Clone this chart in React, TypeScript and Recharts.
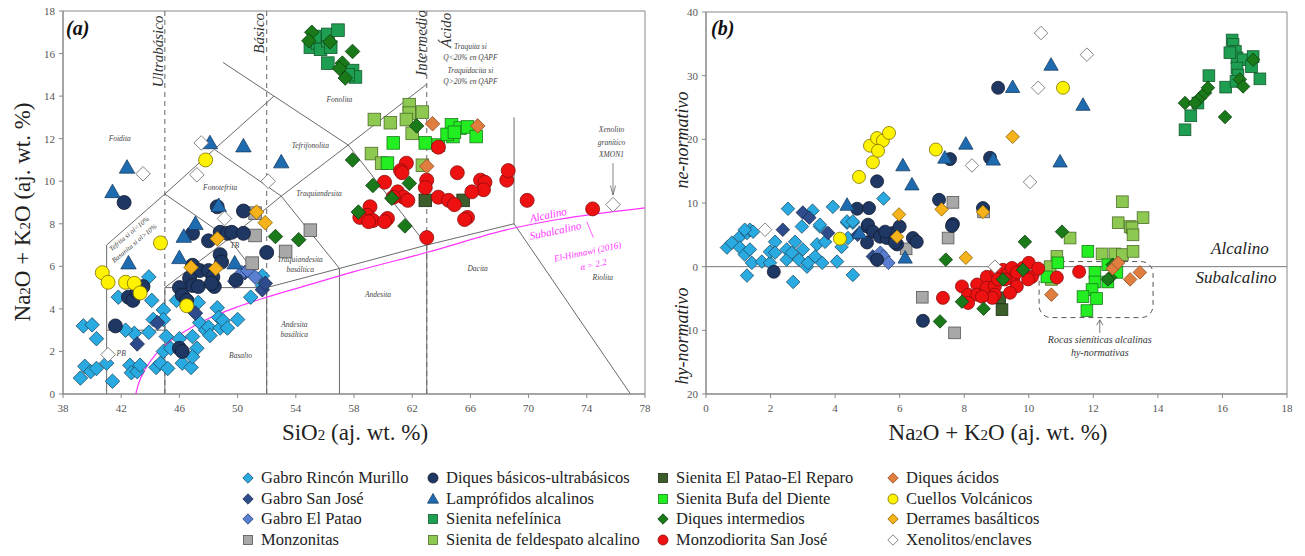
import React from 'react';
import { ScatterChart, Scatter, XAxis, YAxis, ReferenceLine, ReferenceArea } from 'recharts';

const FONT = 'Liberation Serif, Times New Roman, serif';

// ---------- Panel (a) data: [SiO2, Na2O+K2O] ----------
const aGabroRM = [[39.2,0.75],[39.4,3.2],[40.0,3.25],[40.3,2.6],[39.5,1.3],[39.9,1.05],[40.3,1.2],[41.4,0.6],[41.0,1.45],[41.8,4.55],[42.6,1.35],[42.7,1.0],[43.1,1.05],[43.3,1.35],[42.9,2.85],[43.9,2.9],[44.2,3.5],[43.9,5.5],[44.1,4.4],[44.4,1.25],[44.7,1.45],[45.2,1.2],[44.9,2.0],[44.9,3.95],[44.9,3.5],[45.1,2.7],[45.4,2.15],[45.8,4.4],[46.0,2.6],[46.2,1.45],[46.5,4.5],[46.8,1.25],[46.9,2.7],[47.2,2.15],[47.3,4.3],[46.9,1.75],[47.4,3.35],[47.8,3.0],[48.0,3.15],[48.1,2.75],[48.6,4.05],[48.7,3.6],[48.8,3.1],[49.0,3.45],[49.3,3.1],[50.0,3.5],[50.9,4.55],[51.7,5.55],[51.7,5.1],[42.3,3.0]];
const aGabroSJ = [[43.1,2.35],[44.5,3.35],[47.1,3.8],[51.7,4.9],[51.9,5.2],[50.5,5.7]];
const aGabroEP = [[50.3,5.7],[50.7,5.8],[51.2,5.5],[49.8,5.3]];
const aMonz = [[51.2,8.5],[51.2,7.45],[53.3,6.7],[55.0,7.7],[51.0,6.15]];
const aDiquesBU = [[42.2,9.0],[48.6,8.8],[50.4,8.6],[41.6,3.2],[42.5,4.55],[42.8,4.4],[43.5,5.05],[43.1,4.8],[46.9,7.55],[48.0,7.2],[48.8,7.6],[49.3,7.55],[49.6,7.6],[50.4,7.55],[48.8,6.55],[48.9,6.2],[46.9,6.05],[47.4,5.8],[48.0,5.8],[48.3,5.5],[48.4,5.05],[46.7,5.45],[46.9,5.1],[46.0,5.0],[46.2,4.65],[46.5,4.4],[47.3,5.05],[48.2,5.2],[49.9,5.35],[52.0,6.65],[46.0,2.15],[46.2,2.0]];
const aLampro = [[48.1,11.8],[50.4,11.65],[53.0,10.9],[42.4,10.65],[41.4,9.5],[47.1,8.0],[42.5,6.15],[46.3,7.4],[46.0,6.4],[49.8,6.15],[48.7,8.85]];
const aNefel = [[55.0,16.3],[55.5,16.5],[55.7,16.2],[56.2,16.6],[56.2,16.9],[56.9,17.1],[56.4,16.3],[56.2,15.55],[57.9,15.2],[58.1,14.9],[57.6,15.0],[55.3,16.8]];
const aSfa = [[59.4,12.9],[60.5,12.75],[61.8,13.6],[61.8,13.2],[62.7,13.25],[62.0,12.25],[59.2,11.3],[59.9,10.85],[62.7,10.75],[61.6,12.9]];
const aElPatao = [[62.9,9.1],[65.5,9.1]];
const aBufa = [[60.7,11.8],[62.9,11.8],[60.3,10.85],[63.8,11.7],[64.7,12.65],[65.3,12.5],[64.8,12.1],[64.4,12.2],[65.8,12.55],[66.4,12.1],[64.9,12.3]];
const aIntermed = [[55.1,17.0],[56.35,16.55],[57.9,16.1],[57.2,15.55],[57.4,14.85],[57.0,15.3],[54.9,16.6],[52.6,7.4],[54.2,7.25],[57.9,11.0],[59.3,9.8],[60.6,9.2],[61.8,9.9],[58.3,8.55],[61.5,7.9],[62.3,12.6]];
const aMonzod = [[61.6,10.85],[61.2,10.5],[61.3,10.4],[60.1,9.95],[61.0,9.5],[61.4,9.25],[61.7,9.1],[60.7,9.25],[59.1,8.8],[58.9,8.4],[58.4,8.3],[59.3,8.15],[60.3,8.25],[63.0,10.05],[62.9,9.7],[63.8,9.25],[64.5,9.1],[64.9,8.9],[65.1,10.4],[65.8,8.3],[66.7,10.05],[67.0,9.95],[66.9,9.6],[66.1,9.5],[68.5,10.05],[68.6,10.5],[69.9,9.1],[74.4,8.7],[63.8,11.6],[63.0,7.35],[65.6,8.2],[60.1,8.1],[59.0,8.1]];
const aAcidos = [[63.4,12.7],[66.5,12.6],[63.0,10.7]];
const aCuellos = [[47.8,11.0],[44.7,7.1],[40.7,5.7],[41.1,5.25],[42.3,5.25],[42.9,5.2],[43.3,4.75],[46.5,4.15]];
const aDerrames = [[51.3,8.55],[51.9,8.05],[48.6,7.3],[46.8,5.95],[48.5,5.9]];
const aXeno = [[47.5,11.8],[43.5,10.35],[47.2,10.3],[52.1,10.0],[49.1,8.25],[41.1,1.85],[75.8,8.9]];

// ---------- Panel (b) data: [Na2O+K2O, ne(+)/hy(-)] ----------
const bGabroRM = [[0.65,3.0],[0.8,3.75],[1.05,4.7],[1.27,5.3],[1.36,5.8],[1.46,5.5],[1.05,3.0],[1.2,1.9],[1.36,2.7],[1.42,0.6],[1.27,-1.4],[1.73,0.8],[1.98,0.6],[1.98,2.35],[2.14,3.9],[2.14,2.2],[2.5,2.7],[2.5,1.1],[2.66,2.2],[2.7,-2.4],[2.76,3.9],[2.88,1.1],[2.97,6.3],[3.0,2.7],[3.13,0],[3.16,0.6],[3.38,1.6],[3.44,3.5],[3.6,0.6],[3.53,6.3],[3.69,3.9],[4.06,0.8],[4.2,3.1],[4.37,6.9],[4.55,-1.3],[4.55,6.9],[4.4,4.5],[2.54,9.1],[3.3,8.8],[3.93,9.4],[4.37,7.1],[4.55,7.1],[5.5,10.7],[3.53,6.6],[1.2,5.8]];
const bGabroSJ = [[3.0,8.5],[2.38,5.8],[3.78,5.3],[4.7,5.0],[5.17,1.6],[3.2,7.7]];
const bGabroEP = [[5.4,2.2],[5.5,1.6],[5.65,0.6],[5.3,1.0]];
const bMonz = [[7.65,10.1],[7.5,4.5],[6.2,2.8],[6.7,-4.8],[7.7,-10.4],[8.6,8.6]];
const bDiquesBU = [[5.3,13.4],[4.68,9.1],[5.05,9.2],[5.0,6.3],[7.56,16.9],[7.22,10.5],[7.65,6.7],[8.58,9.2],[9.05,28.1],[8.8,17.1],[5.02,6.6],[5.17,5.5],[4.99,3.8],[5.39,4.7],[5.3,1.1],[5.6,4.5],[5.8,5.3],[5.92,3.5],[6.0,6.3],[6.41,4.5],[6.53,3.9],[2.1,-0.8],[6.72,-8.5],[7.62,6.4],[5.55,5.5],[5.85,3.8]];
const bLampro = [[6.1,15.9],[6.38,12.9],[8.05,19.3],[7.4,17.1],[4.37,9.7],[9.5,28.2],[10.69,31.7],[11.68,25.4],[10.97,16.5],[8.9,16.8],[4.75,5.3],[6.17,1.4]];
const bNefel = [[16.3,35.6],[16.33,34.9],[16.4,33.8],[16.45,32.8],[16.23,33.6],[16.64,32.5],[16.95,33.0],[16.9,31.4],[16.45,31.2],[16.48,30.1],[17.16,29.5],[16.1,28.2],[15.58,30.0],[15.24,25.7],[15.02,23.7],[14.84,21.5],[16.42,29.1]];
const bSfa = [[12.9,10.2],[12.77,6.9],[13.14,6.3],[13.54,7.7],[13.2,6.1],[13.23,5.0],[12.27,2.0],[12.67,2.0],[12.9,1.9],[13.23,2.4],[10.87,1.6],[11.28,4.5],[10.7,-2.0],[10.66,0]];
const bElPatao = [[9.1,-4.9],[9.17,-6.75]];
const bBufa = [[11.83,2.4],[12.05,-0.9],[12.05,-2.4],[11.96,-3.6],[11.68,-4.7],[12.1,-5.0],[11.8,-6.9],[12.45,0.3],[12.73,-0.9],[12.45,-2.4],[10.9,0.6],[10.56,-1.6]];
const bIntermed = [[14.84,25.7],[15.3,26.5],[15.46,27.3],[15.55,28.1],[16.08,23.5],[16.54,29.4],[16.64,28.3],[16.95,32.5],[15.15,25.7],[11.03,5.5],[9.88,3.9],[7.43,1.1],[9.2,-2.0],[9.82,-0.5],[7.93,-5.5],[8.6,-6.6],[7.25,-8.6],[12.52,-1.7],[12.6,0.3],[12.45,-2.0]];
const bMonzod = [[7.34,-4.9],[7.93,-3.1],[8.12,-4.4],[8.4,-2.8],[8.4,-4.4],[8.7,-1.6],[8.7,-3.3],[8.95,-3.1],[8.95,-4.4],[9.0,-0.9],[9.2,-0.5],[9.32,-1.3],[9.48,-0.2],[9.52,-2.0],[9.63,-3.1],[9.42,-4.1],[8.87,-4.9],[8.55,-4.7],[8.12,-5.7],[9.82,-0.2],[10.0,0.6],[10.1,-1.6],[9.98,-2.0],[10.29,-0.3],[10.87,-1.7],[11.56,-0.8],[9.63,-0.9],[9.26,-2.0],[9.05,-2.0]];
const bAcidos = [[10.7,-4.4],[12.6,-0.3],[12.77,0.6],[13.14,-2.0],[13.44,-0.9]];
const bCuellos = [[4.74,14.1],[5.17,16.4],[5.08,19.0],[5.3,20.2],[5.48,19.8],[5.33,18.2],[5.67,21.0],[7.12,18.4],[11.06,28.1],[4.15,4.4]];
const bDerrames = [[5.98,8.2],[5.92,4.7],[7.3,9.0],[8.05,1.4],[8.58,8.6],[9.5,20.4]];
const bXeno = [[10.38,36.7],[11.8,33.3],[10.29,28.1],[10.04,13.3],[8.24,15.9],[1.83,5.8],[8.95,0.0]];

// ---------- ticks ----------
const aXTicks = [38,42,46,50,54,58,62,66,70,74,78];
const aYTicks = [0,2,4,6,8,10,12,14,16,18];
const bXTicks = [0,2,4,6,8,10,12,14,16,18];
const bYTicks = [-20,-10,0,10,20,30,40];

// ---------- TAS diagram boundaries (panel a) ----------
const tasSegments = [
  [[41,0],[41,7]],[[41,3],[45,3]],[[45,0],[45,5]],[[45,5],[52,5]],[[52,0],[52,5]],
  [[57,0],[57,5.9]],[[63,0],[63,7]],[[52,5],[57,5.9]],[[57,5.9],[63,7]],[[63,7],[69,8]],
  [[69,8],[77,0]],[[69,8],[69,13]],[[41,7],[45,9.4]],[[45,9.4],[48.4,11.5]],[[48.4,11.5],[52.5,14]],
  [[45,5],[49.4,7.3]],[[49.4,7.3],[52,5]],[[49.4,7.3],[45,9.4]],[[49.4,7.3],[53,9.3]],
  [[53,9.3],[57,5.9]],[[53,9.3],[48.4,11.5]],[[53,9.3],[57.6,11.7]],[[57.6,11.7],[63,14.56]],
  [[49,15.58],[57.6,11.7]],[[57.6,11.7],[63,7]],
];
const dividerX = [45,52,63];
const alkalineCurve = [[43,0],[43.2,0.5],[43.6,1.1],[44.3,1.8],[45.2,2.4],[46.5,3.0],[48,3.55],[50,4.1],[52,4.55],[55,5.15],[58,5.75],[63,6.65],[69,7.8],[72,8.2],[78,8.75]];
const magentaPointer = [[74.0,8.1],[74.45,7.35]];
const aArrow = [[[75.8,10.85],[75.8,9.35]],[[75.62,9.8],[75.8,9.35]],[[75.98,9.8],[75.8,9.35]]];

const aFieldLabels = [
  { x: 41.9, y: 11.9, t: 'Foidita' },
  { x: 48.8, y: 9.6, t: 'Fonotefrita' },
  { x: 55.0, y: 11.55, t: 'Tefrifonolita' },
  { x: 57.0, y: 13.7, t: 'Fonolita' },
  { x: 55.6, y: 9.3, t: 'Traquiandesita' },
  { x: 54.3, y: 6.2, t: 'Traquiandesita' },
  { x: 54.3, y: 5.75, t: 'basáltica' },
  { x: 53.9, y: 3.15, t: 'Andesita' },
  { x: 53.9, y: 2.7, t: 'basáltica' },
  { x: 59.65, y: 4.55, t: 'Andesita' },
  { x: 50.2, y: 1.7, t: 'Basalto' },
  { x: 66.5, y: 5.8, t: 'Dacita' },
  { x: 75.1, y: 5.35, t: 'Riolita' },
  { x: 42.0, y: 1.8, t: 'PB' },
  { x: 49.8, y: 6.85, t: 'TB' },
  { x: 66.0, y: 16.2, t: 'Traquita si' },
  { x: 66.0, y: 15.7, t: 'Q<20% en QAPF' },
  { x: 66.0, y: 15.1, t: 'Traquidacita si' },
  { x: 66.0, y: 14.55, t: 'Q>20% en QAPF' },
  { x: 75.7, y: 12.3, t: 'Xenolito' },
  { x: 75.7, y: 11.7, t: 'granítico' },
  { x: 75.7, y: 11.15, t: 'XMON1' },
];
const aSlantLabels = [
  { x: 42.65, y: 7.45, t: 'Tefrita si ol<10%' },
  { x: 43.0, y: 7.0, t: 'Basanita si ol>10%' },
];
const aDividerLabels = [
  { x: 44.85, y: 16.1, t: 'Ultrabásico' },
  { x: 51.8, y: 16.95, t: 'Básico' },
  { x: 62.95, y: 16.5, t: 'Intermedio' },
  { x: 64.7, y: 17.1, t: 'Ácido' },
];
const aMagentaLabels = [
  { x: 71.4, y: 8.25, t: 'Alcalino', s: 11 },
  { x: 71.9, y: 7.5, t: 'Subalcalino', s: 11 },
  { x: 74.1, y: 6.55, t: 'El-Hinnawi (2016)', s: 9 },
  { x: 74.5, y: 5.95, t: 'α = 2.2', s: 9 },
];

// ---------- panel b annotations ----------
const bSerieLabels = [
  { x: 16.54, y: 2.0, t: 'Alcalino' },
  { x: 16.42, y: -2.5, t: 'Subalcalino' },
];
const bNoteLabels = [
  { x: 12.2, y: -12.0, t: 'Rocas sieníticas alcalinas' },
  { x: 12.2, y: -14.1, t: 'hy-normativas' },
];
const bBox = { x1: 10.32, x2: 13.85, y1: -8.0, y2: 0.8 };
const bArrow = [[[12.2,-10.4],[12.2,-8.35]],[[12.1,-9.2],[12.2,-8.35]],[[12.3,-9.2],[12.2,-8.35]]];

type Kind = 'circle' | 'square' | 'diamond' | 'triangle';
interface Serie { name: string; fill: string; stroke: string; kind: Kind; a: number[][]; b: number[][] }

const series: Serie[] = [
  { name: 'Gabro Rincón Murillo', fill: '#29ABE2', stroke: '#1c4a66', kind: 'diamond', a: aGabroRM, b: bGabroRM },
  { name: 'Gabro San José', fill: '#2E4B8B', stroke: '#1b2a4a', kind: 'diamond', a: aGabroSJ, b: bGabroSJ },
  { name: 'Gabro El Patao', fill: '#5B7FD0', stroke: '#2a3d70', kind: 'diamond', a: aGabroEP, b: bGabroEP },
  { name: 'Monzonitas', fill: '#A8A8A8', stroke: '#555', kind: 'square', a: aMonz, b: bMonz },
  { name: 'Diques básicos-ultrabásicos', fill: '#1F3763', stroke: '#111a30', kind: 'circle', a: aDiquesBU, b: bDiquesBU },
  { name: 'Lamprófidos alcalinos', fill: '#1F6BB0', stroke: '#173f66', kind: 'triangle', a: aLampro, b: bLampro },
  { name: 'Sienita nefelínica', fill: '#1E9E50', stroke: '#145a2e', kind: 'square', a: aNefel, b: bNefel },
  { name: 'Sienita de feldespato alcalino', fill: '#8DC850', stroke: '#4d6e2a', kind: 'square', a: aSfa, b: bSfa },
  { name: 'Sienita El Patao-El Reparo', fill: '#3B5E2B', stroke: '#1e2f16', kind: 'square', a: aElPatao, b: bElPatao },
  { name: 'Sienita Bufa del Diente', fill: '#22EE22', stroke: '#1a7a1a', kind: 'square', a: aBufa, b: bBufa },
  { name: 'Diques intermedios', fill: '#1A7A1A', stroke: '#0e3e0e', kind: 'diamond', a: aIntermed, b: bIntermed },
  { name: 'Monzodiorita San José', fill: '#EE1111', stroke: '#8a0d0d', kind: 'circle', a: aMonzod, b: bMonzod },
  { name: 'Diques ácidos', fill: '#E07E40', stroke: '#8a4a20', kind: 'diamond', a: aAcidos, b: bAcidos },
  { name: 'Cuellos Volcánicos', fill: '#FFF200', stroke: '#7a7000', kind: 'circle', a: aCuellos, b: bCuellos },
  { name: 'Derrames basálticos', fill: '#F5B21B', stroke: '#8a6200', kind: 'diamond', a: aDerrames, b: bDerrames },
  { name: 'Xenolitos/enclaves', fill: '#FFFFFF', stroke: '#666', kind: 'diamond', a: aXeno, b: bXeno },
];

const drawOrder = [0, 1, 2, 3, 4, 5, 6, 7, 9, 8, 11, 10, 12, 14, 13, 15];

const toXY = (arr: number[][]) => arr.map(([x, y]) => ({ x, y }));

function Marker({ kind, cx, cy, fill, stroke, s }: { kind: Kind; cx: number; cy: number; fill: string; stroke: string; s: number }) {
  const sw = 0.8;
  if (kind === 'circle') return <circle cx={cx} cy={cy} r={s / 2} fill={fill} stroke={stroke} strokeWidth={sw} />;
  if (kind === 'square') return <rect x={cx - s * 0.45} y={cy - s * 0.45} width={s * 0.9} height={s * 0.9} fill={fill} stroke={stroke} strokeWidth={sw} />;
  if (kind === 'diamond') {
    const h = s * 0.52;
    return <polygon points={`${cx},${cy - h} ${cx + h},${cy} ${cx},${cy + h} ${cx - h},${cy}`} fill={fill} stroke={stroke} strokeWidth={sw} />;
  }
  const h = s * 0.55;
  return <polygon points={`${cx},${cy - h} ${cx + h},${cy + h * 0.75} ${cx - h},${cy + h * 0.75}`} fill={fill} stroke={stroke} strokeWidth={sw} />;
}

const markerShape = (sr: Serie, s: number) => (p: any) => {
  if (p == null || p.cx == null || p.cy == null) return <g />;
  return <Marker kind={sr.kind} cx={p.cx} cy={p.cy} fill={sr.fill} stroke={sr.stroke} s={s} />;
};

const textShape = (style: any, rotate = 0) => (p: any) => {
  if (p == null || p.cx == null) return <g />;
  const fs = p.payload && p.payload.s ? p.payload.s : style.fontSize;
  return (
    <text
      x={p.cx}
      y={p.cy}
      textAnchor="middle"
      fontFamily={FONT}
      fontStyle="italic"
      fill={style.fill}
      fontSize={fs}
      transform={rotate ? `rotate(${rotate} ${p.cx} ${p.cy})` : undefined}
    >
      {p.payload.t}
    </text>
  );
};

const noShape = () => <g />;
const axisGray = '#888';

const makeTick = (fmt: (v: number) => string, axis: 'x' | 'y') => (p: any) => {
  const { x, y, payload } = p;
  if (axis === 'x') {
    return (
      <text x={x} y={y + 12} textAnchor="middle" fontFamily={FONT} fontSize={11} fill="#555">{fmt(payload.value)}</text>
    );
  }
  return (
    <text x={x - 2} y={y + 4} textAnchor="end" fontFamily={FONT} fontSize={11} fill="#555">{fmt(payload.value)}</text>
  );
};
const idFmt = (v: number) => String(v);
const absFmt = (v: number) => String(Math.abs(v));

export default function App() {
  return (
    <div style={{ position: 'absolute', left: 0, top: 0, width: 1305, height: 556, background: '#fff', overflow: 'hidden', fontFamily: FONT }}>
      {/* Panel (a) */}
      <div style={{ position: 'absolute', left: 0, top: 0 }}>
        <ScatterChart width={660} height={450} margin={{ top: 11, right: 15, bottom: 26, left: 0 }}>
          <XAxis type="number" dataKey="x" domain={[38, 78]} ticks={aXTicks} allowDataOverflow height={30} tick={makeTick(idFmt, 'x')} tickSize={4} axisLine={{ stroke: axisGray }} tickLine={{ stroke: axisGray }} />
          <YAxis type="number" dataKey="y" domain={[0, 18]} ticks={aYTicks} allowDataOverflow width={63} tick={makeTick(idFmt, 'y')} tickSize={4} axisLine={{ stroke: axisGray }} tickLine={{ stroke: axisGray }} />
          <ReferenceArea x1={38} x2={78} y1={0} y2={18} fill="none" stroke={axisGray} strokeWidth={1} />
          {dividerX.map((x) => (
            <ReferenceLine key={'d' + x} segment={[{ x, y: 0 }, { x, y: 18 }]} stroke="#666" strokeDasharray="5 4" strokeWidth={1} />
          ))}
          {tasSegments.map((s, i) => (
            <ReferenceLine key={'t' + i} segment={[{ x: s[0][0], y: s[0][1] }, { x: s[1][0], y: s[1][1] }]} stroke="#6a6a6a" strokeWidth={1} />
          ))}
          {aArrow.map((s, i) => (
            <ReferenceLine key={'aa' + i} segment={[{ x: s[0][0], y: s[0][1] }, { x: s[1][0], y: s[1][1] }]} stroke="#666" strokeWidth={0.8} />
          ))}
          <ReferenceLine segment={[{ x: magentaPointer[0][0], y: magentaPointer[0][1] }, { x: magentaPointer[1][0], y: magentaPointer[1][1] }]} stroke="#ff33ff" strokeWidth={0.8} />
          <Scatter data={toXY(alkalineCurve)} line={{ stroke: '#ff33ff', strokeWidth: 1.2 }} lineJointType="monotoneX" shape={noShape} isAnimationActive={false} />
          <Scatter data={aFieldLabels} shape={textShape({ fontSize: 7.5, fill: '#444' })} isAnimationActive={false} />
          <Scatter data={aSlantLabels} shape={textShape({ fontSize: 7, fill: '#444' }, -40)} isAnimationActive={false} />
          <Scatter data={aDividerLabels} shape={textShape({ fontSize: 15, fill: '#333' }, -90)} isAnimationActive={false} />
          <Scatter data={aMagentaLabels} shape={textShape({ fontSize: 11, fill: '#ff33ff' }, -12)} isAnimationActive={false} />
          {drawOrder.map((i) => (
            <Scatter key={'a' + i} name={series[i].name} data={toXY(series[i].a)} shape={markerShape(series[i], 14)} isAnimationActive={false} />
          ))}
        </ScatterChart>
      </div>

      {/* Panel (b) */}
      <div style={{ position: 'absolute', left: 660, top: 0 }}>
        <ScatterChart width={645} height={450} margin={{ top: 12, right: 18, bottom: 26, left: 0 }}>
          <XAxis type="number" dataKey="x" domain={[0, 18]} ticks={bXTicks} allowDataOverflow height={30} tick={makeTick(idFmt, 'x')} tickSize={4} axisLine={{ stroke: axisGray }} tickLine={{ stroke: axisGray }} />
          <YAxis type="number" dataKey="y" domain={[-20, 40]} ticks={bYTicks} allowDataOverflow width={46} tick={makeTick(absFmt, 'y')} tickSize={4} axisLine={{ stroke: axisGray }} tickLine={{ stroke: axisGray }} />
          <ReferenceArea x1={0} x2={18} y1={-20} y2={40} fill="none" stroke={axisGray} strokeWidth={1} />
          <ReferenceLine y={0} stroke="#777" strokeWidth={1} />
          <ReferenceArea
            x1={bBox.x1}
            x2={bBox.x2}
            y1={bBox.y1}
            y2={bBox.y2}
            shape={(p: any) => (
              <rect x={p.x} y={p.y} width={p.width} height={p.height} rx={12} ry={12} fill="none" stroke="#555" strokeWidth={1} strokeDasharray="5 4" />
            )}
          />
          {bArrow.map((s, i) => (
            <ReferenceLine key={'ba' + i} segment={[{ x: s[0][0], y: s[0][1] }, { x: s[1][0], y: s[1][1] }]} stroke="#555" strokeWidth={0.8} />
          ))}
          <Scatter data={bSerieLabels} shape={textShape({ fontSize: 17, fill: '#222' })} isAnimationActive={false} />
          <Scatter data={bNoteLabels} shape={textShape({ fontSize: 10, fill: '#333' })} isAnimationActive={false} />
          {drawOrder.map((i) => (
            <Scatter key={'b' + i} name={series[i].name} data={toXY(series[i].b)} shape={markerShape(series[i], 13)} isAnimationActive={false} />
          ))}
        </ScatterChart>
      </div>

      {/* Titles and legend overlay */}
      <svg width={1305} height={556} style={{ position: 'absolute', left: 0, top: 0, pointerEvents: 'none' }}>
        <text x={66} y={35} fontFamily={FONT} fontSize={20} fontWeight="bold" fontStyle="italic" fill="#111">(a)</text>
        <text x={711} y={35} fontFamily={FONT} fontSize={20} fontWeight="bold" fontStyle="italic" fill="#111">(b)</text>

        <text transform="translate(30,212) rotate(-90)" textAnchor="middle" fontFamily={FONT} fontSize={23} fill="#222">
          Na<tspan fontSize={15}>2</tspan>O + K<tspan fontSize={15}>2</tspan>O (aj. wt. %)
        </text>
        <text x={355} y={440} textAnchor="middle" fontFamily={FONT} fontSize={23} fill="#222">
          SiO<tspan fontSize={15}>2</tspan> (aj. wt. %)
        </text>
        <text x={998} y={440} textAnchor="middle" fontFamily={FONT} fontSize={23} fill="#222">
          Na<tspan fontSize={15}>2</tspan>O + K<tspan fontSize={15}>2</tspan>O (aj. wt. %)
        </text>
        <text transform="translate(688,140) rotate(-90)" textAnchor="middle" fontFamily={FONT} fontSize={18} fontStyle="italic" fill="#222">ne-normativo</text>
        <text transform="translate(688,336) rotate(-90)" textAnchor="middle" fontFamily={FONT} fontSize={18} fontStyle="italic" fill="#222">hy-normativo</text>

        {series.map((sr, i) => {
          const col = Math.floor(i / 4);
          const row = i % 4;
          const colX = [248, 433, 663, 893][col];
          const rowY = [478, 499, 519, 540][row];
          return (
            <g key={'lg' + i}>
              <Marker kind={sr.kind} cx={colX} cy={rowY} fill={sr.fill} stroke={sr.stroke} s={10} />
              <text x={colX + 13} y={rowY + 5} fontFamily={FONT} fontSize={16.5} fill="#222">{sr.name}</text>
            </g>
          );
        })}
      </svg>
    </div>
  );
}
